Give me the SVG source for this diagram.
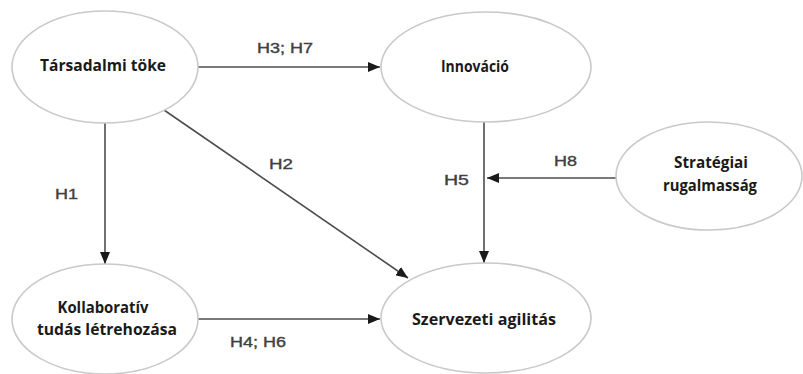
<svg xmlns="http://www.w3.org/2000/svg" width="803" height="374" viewBox="0 0 803 374">
  <style>
    .node ellipse { fill: #ffffff; stroke: #c9c9c9; stroke-width: 1.6; }
    .node text { font-family: "Open Sans", "Liberation Sans", sans-serif; font-weight: 700; font-size: 15.5px; fill: #1a1a1a; text-anchor: middle; }
    .edge { stroke: #4d4d4d; stroke-width: 1.6; fill: none; marker-end: url(#arrow); }
    .lbl { font-family: "Liberation Sans", Arial, sans-serif; font-size: 14px; fill: #404040; stroke: #404040; stroke-width: 0.35; }
  </style>
  <defs>
    <marker id="arrow" viewBox="0 0 12 10" refX="12" refY="5" markerWidth="12" markerHeight="10" markerUnits="userSpaceOnUse" orient="auto">
      <path d="M0,0 L12,5 L0,10 Z" fill="#1a1a1a"/>
    </marker>
  </defs>
  <rect width="803" height="374" fill="#ffffff"/>

  <g id="connectors">
    <line class="edge" x1="198" y1="67" x2="380" y2="67"/>
    <line class="edge" x1="105" y1="123" x2="105" y2="264"/>
    <line class="edge" x1="164" y1="110" x2="408" y2="278"/>
    <line class="edge" x1="484" y1="122" x2="484" y2="263"/>
    <line class="edge" x1="617" y1="178" x2="487" y2="178"/>
    <line class="edge" x1="198" y1="319" x2="380" y2="319"/>
    <text class="lbl" x="257" y="53" textLength="56" lengthAdjust="spacingAndGlyphs">H3; H7</text>
    <text class="lbl" x="269" y="169" textLength="24" lengthAdjust="spacingAndGlyphs">H2</text>
    <text class="lbl" x="55" y="199" textLength="23" lengthAdjust="spacingAndGlyphs">H1</text>
    <text class="lbl" x="444" y="185" textLength="25" lengthAdjust="spacingAndGlyphs">H5</text>
    <text class="lbl" x="554" y="166" textLength="23" lengthAdjust="spacingAndGlyphs">H8</text>
    <text class="lbl" x="230" y="347" textLength="56" lengthAdjust="spacingAndGlyphs">H4; H6</text>
  </g>

  <g id="tarsadalmi-toke" class="node">
    <ellipse cx="105" cy="67" rx="93" ry="56"/>
    <text x="103" y="71" textLength="126" lengthAdjust="spacingAndGlyphs">Társadalmi töke</text>
  </g>

  <g id="innovacio" class="node">
    <ellipse cx="486" cy="67" rx="105" ry="55"/>
    <text x="475" y="72" textLength="68" lengthAdjust="spacingAndGlyphs">Innováció</text>
  </g>

  <g id="strategiai-rugalmassag" class="node">
    <ellipse cx="709" cy="176" rx="93" ry="54"/>
    <text x="711" y="168" textLength="74" lengthAdjust="spacingAndGlyphs">Stratégiai</text>
    <text x="710" y="191" textLength="94" lengthAdjust="spacingAndGlyphs">rugalmasság</text>
  </g>

  <g id="kollaborativ-tudas" class="node">
    <ellipse cx="105" cy="319" rx="93" ry="55"/>
    <text x="103" y="313" textLength="91" lengthAdjust="spacingAndGlyphs">Kollaboratív</text>
    <text x="107" y="335" textLength="140" lengthAdjust="spacingAndGlyphs">tudás létrehozása</text>
  </g>

  <g id="szervezeti-agilitas" class="node">
    <ellipse cx="486" cy="318" rx="105" ry="55"/>
    <text x="484" y="325" textLength="144" lengthAdjust="spacingAndGlyphs">Szervezeti agilitás</text>
  </g>
</svg>
